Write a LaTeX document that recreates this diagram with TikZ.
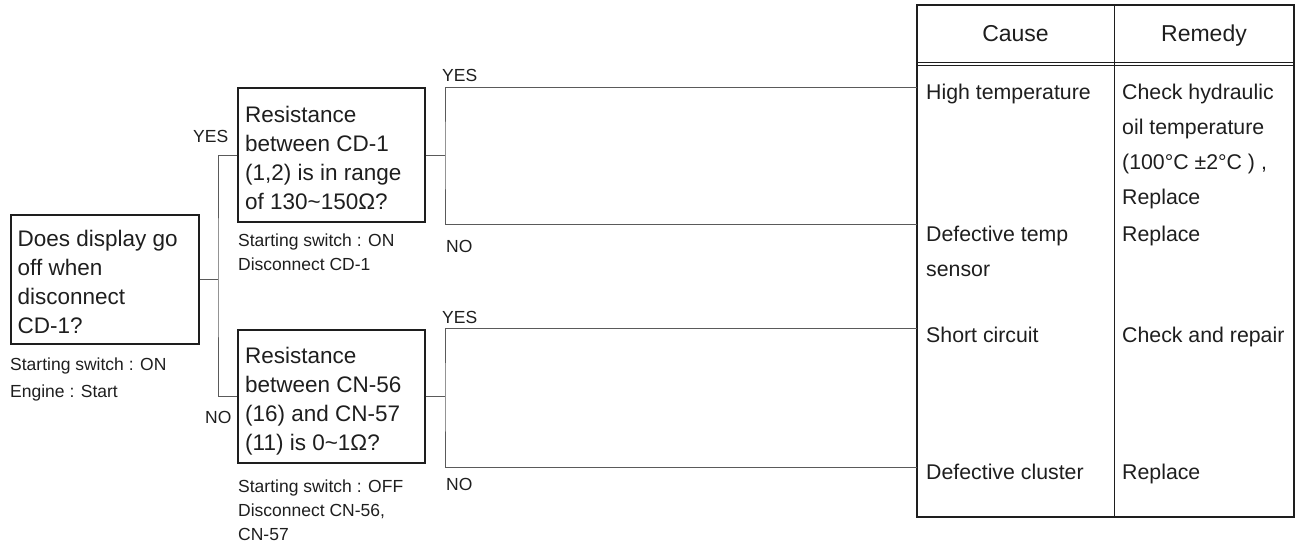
\documentclass[tikz,border=0pt]{standalone}
\usepackage{fontspec}
\setmainfont{Liberation Sans}
\definecolor{ink}{HTML}{1E1E1E}
\definecolor{wire}{HTML}{5A5A5A}
\begin{document}
\begin{tikzpicture}[x=1pt,y=-1pt,
  box/.style={draw=ink, line width=1.3pt, inner sep=0pt},
  wire/.style={draw=wire, line width=1pt},
  btxt/.style={anchor=base west, inner sep=0pt, align=left, text=ink, font=\fontsize{22.5}{29}\selectfont},
  stxt/.style={anchor=base west, inner sep=0pt, align=left, text=ink, font=\fontsize{17.5}{24}\selectfont},
  lbl/.style={anchor=base west, inner sep=0pt, text=ink, font=\fontsize{17.5}{21}\selectfont},
  ttxt/.style={anchor=base west, inner sep=0pt, align=left, text=ink, font=\fontsize{21.3}{35}\selectfont},
  htxt/.style={anchor=base, inner sep=0pt, text=ink, font=\fontsize{23}{27}\selectfont}]
\useasboundingbox (0,0) rectangle (1301,544);

% decision boxes
\node[box, minimum width=188pt, minimum height=129pt] (L) at (105,279.5) {};
\node[box, minimum width=187pt, minimum height=134pt] (T) at (331.5,155) {};
\node[box, minimum width=187pt, minimum height=133pt] (B) at (331.5,396.5) {};

% (multi-line nodes: base = baseline of last line)
\node[btxt] (Lt) at (17.5,333) {Does display go\\off when\\disconnect\\CD-1?};
\node[btxt] (Tt) at (245,209) {Resistance\\between CD-1\\(1,2) is in range\\of 130\textasciitilde150Ω?};
\node[btxt] (Bt) at (245,450) {Resistance\\between CN-56\\(16) and CN-57\\(11) is 0\textasciitilde1Ω?};

\node[stxt, font=\fontsize{17.5}{27}\selectfont] (Ls) at (10,397) {Starting switch : ON\\Engine : Start};
\node[stxt] (Ts) at (238,270) {Starting switch : ON\\Disconnect CD-1};
\node[stxt] (Bs) at (238,540) {Starting switch : OFF\\Disconnect CN-56,\\CN-57};

% table
\node[draw=ink, line width=1.5pt, minimum width=377pt, minimum height=512pt, inner sep=0pt] (tab) at (1105.5,261) {};
\coordinate (dtop) at (1114,5);
\coordinate (dbot) at (1114,517);
\draw[draw=ink, line width=0.8pt] (dtop) -- (dbot);
\coordinate (h1l) at (917,62);
\coordinate (h1r) at (1294,62);
\coordinate (h2l) at (917,65.5);
\coordinate (h2r) at (1294,65.5);
\draw[draw=ink, line width=0.8pt] (h1l) -- (h1r);
\draw[draw=ink, line width=0.8pt] (h2l) -- (h2r);

\node[htxt] (hc) at (1015.5,41) {Cause};
\node[htxt] (hr) at (1204,41) {Remedy};

\node[ttxt] (c1) at (926,99) {High temperature};
\node[ttxt] (r1) at (1122,204) {Check hydraulic\\oil temperature\\(100°C ±2°C ) ,\\Replace};
\node[ttxt] (c2) at (926,276) {Defective temp\\sensor};
\node[ttxt] (r2) at (1122,241) {Replace};
\node[ttxt] (c3) at (926,342) {Short circuit};
\node[ttxt] (r3) at (1122,342) {Check and repair};
\node[ttxt] (c4) at (926,479) {Defective cluster};
\node[ttxt] (r4) at (1122,479) {Replace};

% connectors
\coordinate (jL) at (218,279.5);
\coordinate (jT) at (445,155);
\coordinate (jB) at (445,396.5);
\coordinate (e1) at (917,87);
\coordinate (e2) at (917,224);
\coordinate (e3) at (917,328);
\coordinate (e4) at (917,467);

\draw[wire] (L.east) -- (jL);
\draw[wire] (T.west) -| (jL) |- (B.west);
\draw[wire] (T.east) -- (jT);
\draw[wire] (e1) -| (jT) |- (e2);
\draw[wire] (B.east) -- (jB);
\draw[wire] (e3) -| (jB) |- (e4);

% labels
\node[lbl] (yL) at (193,142) {YES};
\node[lbl] (nL) at (205,423) {NO};
\node[lbl] (yT) at (442,81) {YES};
\node[lbl] (nT) at (446,252) {NO};
\node[lbl] (yB) at (442,323) {YES};
\node[lbl] (nB) at (446,490) {NO};
\end{tikzpicture}
\end{document}
